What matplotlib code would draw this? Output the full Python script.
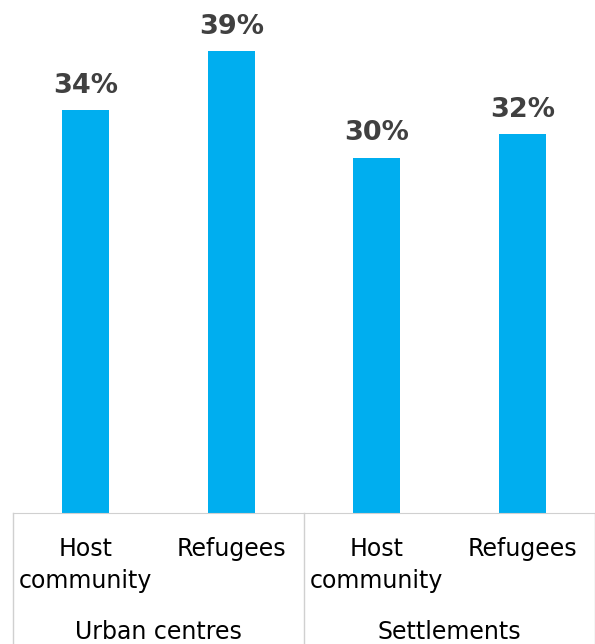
import matplotlib.pyplot as plt
from matplotlib.transforms import blended_transform_factory

# share of respondents per group
groups = ['Urban centres', 'Settlements']
categories = ['Host\ncommunity', 'Refugees', 'Host\ncommunity', 'Refugees']
values = [34, 39, 30, 32]

W, H = 595, 644
fig = plt.figure(figsize=(W / 100, H / 100), dpi=100)
ax = fig.add_axes([13 / W, (H - 513) / H, 582 / W, 513 / H])

x = list(range(len(values)))
bars = ax.bar(x, values, width=0.32, color='#00AEEF')
ax.set_xlim(-0.5, 3.5)
ax.set_ylim(0, 43.3)

for rect, v in zip(bars, values):
    ax.annotate(f'{v}%', (rect.get_x() + rect.get_width() / 2, v),
                xytext=(0, 8), textcoords='offset points',
                ha='center', va='bottom', fontsize=19.5, fontweight='bold',
                color='#404040')

for s in ['top', 'right', 'left']:
    ax.spines[s].set_visible(False)
ax.spines['bottom'].set_color('#d0d0d0')
ax.set_xticks([])
ax.set_yticks([])

# category labels and group dividers below the axis
tr = blended_transform_factory(ax.transData, fig.transFigure)
for xi, cat in zip(x, categories):
    lines = cat.split('\n')
    for k, line in enumerate(lines):
        ax.text(xi, 1 - (549 + 32 * k) / H, line, transform=tr,
                ha='center', va='center', fontsize=17, color='black')

for gi, g in enumerate(groups):
    ax.text(2 * gi + 0.5, 1 - 632 / H, g, transform=tr,
            ha='center', va='center', fontsize=17, color='black')

for xd in [-0.5, 1.5, 3.5]:
    ax.plot([xd, xd], [0, 1 - 513 / H], transform=tr, color='#d0d0d0',
            lw=1, clip_on=False)

fig.savefig('out.png', dpi=100)
